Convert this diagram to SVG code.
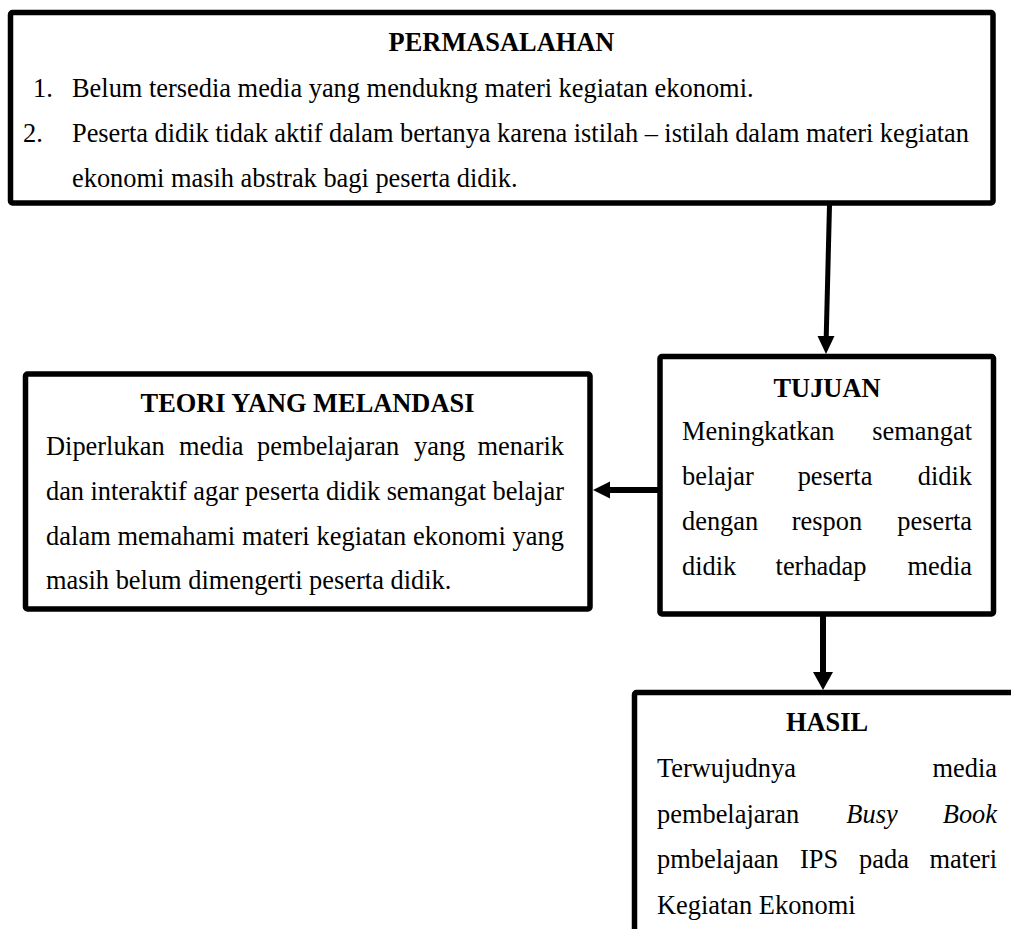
<svg xmlns="http://www.w3.org/2000/svg" width="1011" height="929" viewBox="0 0 1011 929">
<style>
.box{fill:#fff;stroke:#000;stroke-width:5.5;stroke-linejoin:round}
.t{font-family:"Liberation Serif","Times New Roman",serif;font-size:26.4px;fill:#000}
.b{font-weight:bold;text-anchor:middle}
.e{text-anchor:end}
.conn{stroke:#000;fill:none}
.head{fill:#000;stroke:none}
</style>
<rect width="1011" height="929" fill="#fff"/>
<g id="permasalahan">
<rect class="box" x="10.5" y="12.5" width="982.5" height="190.5" rx="2"/>
<text class="t b" x="501.5" y="51">PERMASALAHAN</text>
<text class="t" x="33" y="97">1.</text>
<text class="t" x="72" y="97">Belum tersedia media yang mendukng materi kegiatan ekonomi.</text>
<text class="t" x="23" y="142">2.</text>
<text class="t" x="72" y="142" textLength="897" lengthAdjust="spacing">Peserta didik tidak aktif dalam bertanya karena istilah – istilah dalam materi kegiatan</text>
<text class="t" x="72" y="187">ekonomi masih abstrak bagi peserta didik.</text>
</g>
<g id="tujuan">
<rect class="box" x="660" y="356.5" width="333.5" height="257.5" rx="2"/>
<text class="t b" x="827" y="397">TUJUAN</text>
<text class="t" y="440"><tspan x="682">Meningkatkan</tspan><tspan x="972" class="e">semangat</tspan></text>
<text class="t" y="485"><tspan x="682">belajar</tspan><tspan x="835" style="text-anchor:middle">peserta</tspan><tspan x="972" class="e">didik</tspan></text>
<text class="t" y="530"><tspan x="682">dengan</tspan><tspan x="827" style="text-anchor:middle">respon</tspan><tspan x="972" class="e">peserta</tspan></text>
<text class="t" y="575"><tspan x="682">didik</tspan><tspan x="821" style="text-anchor:middle">terhadap</tspan><tspan x="972" class="e">media</tspan></text>
</g>
<g id="teori">
<rect class="box" x="25.5" y="374" width="564.5" height="235" rx="2"/>
<text class="t b" x="307.5" y="412">TEORI YANG MELANDASI</text>
<text class="t" y="455"><tspan x="46">Diperlukan</tspan><tspan x="179">media</tspan><tspan x="257">pembelajaran</tspan><tspan x="414">yang</tspan><tspan x="564" class="e">menarik</tspan></text>
<text class="t" x="46" y="500" textLength="518" lengthAdjust="spacing">dan interaktif agar peserta didik semangat belajar</text>
<text class="t" x="46" y="545" textLength="518" lengthAdjust="spacing">dalam memahami materi kegiatan ekonomi yang</text>
<text class="t" x="46" y="589">masih belum dimengerti peserta didik.</text>
</g>
<g id="hasil">
<rect class="box" x="634.5" y="692.5" width="500" height="400" rx="2"/>
<text class="t b" x="827" y="731">HASIL</text>
<text class="t" y="777"><tspan x="657">Terwujudnya</tspan><tspan x="997" class="e">media</tspan></text>
<text class="t" y="823"><tspan x="657">pembelajaran</tspan><tspan x="872" style="text-anchor:middle;font-style:italic">Busy</tspan><tspan x="997" class="e" style="font-style:italic">Book</tspan></text>
<text class="t" y="868"><tspan x="657">pmbelajaan</tspan><tspan x="819" style="text-anchor:middle">IPS</tspan><tspan x="884" style="text-anchor:middle">pada</tspan><tspan x="997" class="e">materi</tspan></text>
<text class="t" x="657" y="914">Kegiatan Ekonomi</text>
</g>
<g id="connectors">
<line class="conn" x1="829.5" y1="205" x2="826.2" y2="338" stroke-width="5"/>
<polygon class="head" points="817.5,336 834.5,336 826,354"/>
<line class="conn" x1="658" y1="490" x2="608" y2="490" stroke-width="6"/>
<polygon class="head" points="610,481.5 610,498.5 593,490"/>
<line class="conn" x1="823" y1="616" x2="823" y2="674" stroke-width="6"/>
<polygon class="head" points="813,672 833,672 823,690"/>
</g>
</svg>
